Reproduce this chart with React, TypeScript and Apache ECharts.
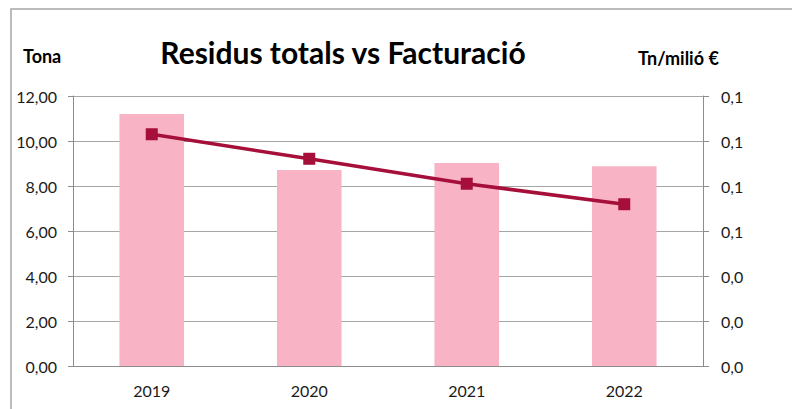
import React, { useEffect, useRef } from "react";
import * as echarts from "echarts";

const categories = ["2019", "2020", "2021", "2022"];
const residusTona = [11.2, 8.71, 9.02, 8.88];
const tnPerMilio = [0.103, 0.0921, 0.081, 0.0719];
const titleText = "Residus totals vs Facturació";
const leftAxisTitle = "Tona";
const rightAxisTitle = "Tn/milió €";

const FONT = "Lato, 'Noto Sans', sans-serif";

export default function App() {
  const ref = useRef<HTMLDivElement>(null);
  useEffect(() => {
    if (!ref.current) return;
    const chart = echarts.init(ref.current, null, { renderer: "svg" });
    chart.setOption({
      animation: false,
      backgroundColor: "#ffffff",
      textStyle: { fontFamily: FONT },
      graphic: [
        {
          type: "rect",
          shape: { x: 11, y: 9, width: 1000, height: 1000 },
          style: { fill: "none", stroke: "#a6a6a6", lineWidth: 1.5 },
          silent: true,
          z: -1,
        },
        {
          type: "text",
          x: 343,
          y: 52,
          style: {
            text: titleText,
            font: `bold 30px ${FONT}`,
            fill: "#000000",
            align: "center",
            verticalAlign: "middle",
          },
        },
        {
          type: "text",
          x: 23,
          y: 56,
          style: {
            text: leftAxisTitle,
            font: `bold 18px ${FONT}`,
            fill: "#000000",
            align: "left",
            verticalAlign: "middle",
          },
        },
        {
          type: "text",
          x: 638,
          y: 58,
          style: {
            text: rightAxisTitle,
            font: `bold 18px ${FONT}`,
            fill: "#000000",
            align: "left",
            verticalAlign: "middle",
          },
        },
      ],
      grid: { left: 73, right: 89, top: 96, bottom: 43, containLabel: false },
      xAxis: {
        type: "category",
        data: categories,
        axisLine: { show: true, lineStyle: { color: "#8c8c8c", width: 1 } },
        axisTick: { show: false },
        axisLabel: { color: "#1a1a1a", fontSize: 16, margin: 16, fontFamily: FONT },
      },
      yAxis: [
        {
          type: "value",
          min: 0,
          max: 12,
          interval: 2,
          position: "left",
          axisLine: { show: true, lineStyle: { color: "#8c8c8c", width: 1 } },
          axisTick: { show: true, length: 5, lineStyle: { color: "#8c8c8c" } },
          splitLine: { show: true, lineStyle: { color: "#a6a6a6", width: 1 } },
          axisLabel: {
            color: "#1a1a1a",
            fontSize: 16,
            margin: 16,
            fontFamily: FONT,
            formatter: (v: number) => v.toFixed(2).replace(".", ","),
          },
        },
        {
          type: "value",
          min: 0,
          max: 0.12,
          interval: 0.02,
          position: "right",
          axisLine: { show: true, lineStyle: { color: "#8c8c8c", width: 1 } },
          axisTick: { show: true, length: 6, lineStyle: { color: "#8c8c8c" } },
          splitLine: { show: false },
          axisLabel: {
            color: "#1a1a1a",
            fontSize: 16,
            margin: 18,
            fontFamily: FONT,
            formatter: (v: number) => v.toFixed(1).replace(".", ","),
          },
        },
      ],
      series: [
        {
          name: "Tona",
          type: "bar",
          data: residusTona,
          barWidth: "41%",
          yAxisIndex: 0,
          itemStyle: { color: "#f8b3c5" },
          z: 2,
        },
        {
          name: "Tn/milió €",
          type: "line",
          data: tnPerMilio,
          yAxisIndex: 1,
          symbol: "rect",
          symbolSize: 12,
          lineStyle: { color: "#a50f3a", width: 3.5 },
          itemStyle: { color: "#a50f3a" },
          z: 3,
        },
      ],
    });
    return () => chart.dispose();
  }, []);
  return (
    <div
      ref={ref}
      style={{ position: "absolute", left: 0, top: 0, width: 792, height: 409 }}
    />
  );
}
